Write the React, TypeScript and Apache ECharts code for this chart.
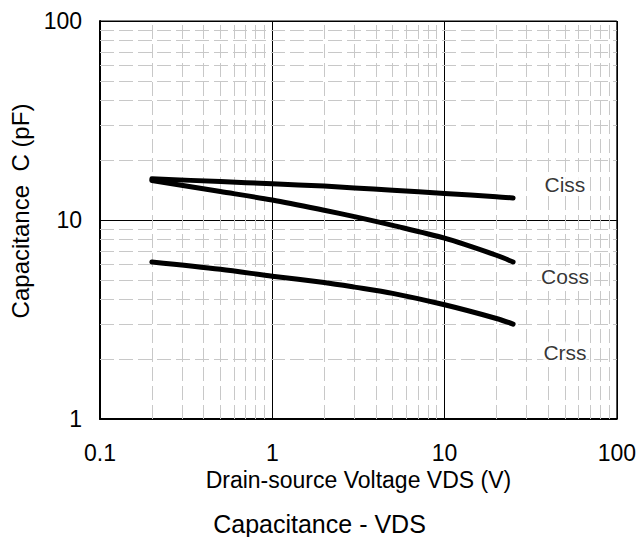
import React, { useEffect, useRef } from "react";
import * as echarts from "echarts";

// Drain-source voltage (V)
const vds = [0.2, 0.5, 1, 2, 3, 5, 10, 20, 25];
// Capacitances (pF)
const ciss = [16.1, 15.6, 15.2, 14.8, 14.5, 14.1, 13.6, 13.1, 12.9];
const coss = [15.8, 13.9, 12.6, 11.2, 10.4, 9.4, 8.1, 6.65, 6.15];
const crss = [6.15, 5.65, 5.22, 4.85, 4.6, 4.28, 3.75, 3.2, 3.0];

const seriesNames = ["Ciss", "Coss", "Crss"];
const labelVds = [50, 50, 50];
const labelC = [15, 5.2, 2.17];

const xDecades = [0.1, 1, 10];
const yDecades = [1, 10];

const FONT = "'Liberation Sans', Arial, sans-serif";

export default function App() {
  const ref = useRef<HTMLDivElement>(null);
  useEffect(() => {
    document.body.style.margin = "0";
    if (!ref.current) return;
    const chart = echarts.init(ref.current, undefined, { renderer: "svg" });

    const minorX: number[] = [];
    xDecades.forEach((d) => {
      for (let k = 2; k <= 9; k++) minorX.push(k * d);
    });
    const minorY: number[] = [];
    yDecades.forEach((d) => {
      for (let k = 2; k <= 9; k++) minorY.push(k * d);
    });

    const curve = (name: string, vals: number[]) => ({
      name,
      type: "line",
      smooth: 0.3,
      showSymbol: false,
      symbol: "none",
      data: vds.map((v, i) => [v, vals[i]]),
      lineStyle: { color: "#000", width: 5, cap: "round", join: "round" },
      z: 5,
    });

    chart.setOption({
      animation: false,
      grid: {
        left: 96,
        top: 21,
        right: 20,
        bottom: 118,
        show: true,
        borderColor: "#000",
        borderWidth: 1,
        backgroundColor: "transparent",
      },
      title: {
        text: "Capacitance - VDS",
        left: "center",
        top: 506,
        textStyle: { fontFamily: FONT, fontSize: 25, fontWeight: "normal", color: "#000" },
      },
      xAxis: {
        type: "log",
        logBase: 10,
        min: 0.1,
        max: 100,
        name: "Drain-source Voltage VDS (V)",
        nameLocation: "middle",
        nameGap: 49,
        nameTextStyle: { fontFamily: FONT, fontSize: 23, color: "#000" },
        axisLine: { show: true, onZero: false, lineStyle: { color: "#000", width: 2 } },
        axisTick: { show: false },
        axisLabel: { fontFamily: FONT, fontSize: 23, color: "#000", margin: 22 },
        splitLine: { show: true, lineStyle: { color: "#000", width: 1 } },
      },
      yAxis: {
        type: "log",
        logBase: 10,
        min: 1,
        max: 100,
        name: "Capacitance  C (pF)",
        nameLocation: "middle",
        nameGap: 68,
        nameTextStyle: {
          fontFamily: FONT,
          fontSize: 24,
          color: "#000",
          padding: [0, 0, 0, 18],
        },
        axisLine: { show: true, onZero: false, lineStyle: { color: "#000", width: 2 } },
        axisTick: { show: false },
        axisLabel: { fontFamily: FONT, fontSize: 23, color: "#000", margin: 18 },
        splitLine: { show: true, lineStyle: { color: "#000", width: 1 } },
      },
      series: [
        {
          name: "grid",
          type: "line",
          data: [],
          silent: true,
          z: 1,
          markLine: {
            silent: true,
            symbol: ["none", "none"],
            label: { show: false },
            lineStyle: { color: "#c8c8c8", width: 1, type: [14, 5] },
            data: [
              ...minorX.map((v) => ({ xAxis: v })),
              ...minorY.map((v) => ({ yAxis: v })),
            ],
          },
        },
        curve("Ciss", ciss),
        curve("Coss", coss),
        curve("Crss", crss),
        {
          name: "labels",
          type: "scatter",
          symbolSize: 0,
          silent: true,
          z: 6,
          data: seriesNames.map((n, i) => ({ value: [labelVds[i], labelC[i]], name: n })),
          label: {
            show: true,
            position: [0, 0],
            align: "center",
            verticalAlign: "middle",
            formatter: (p: any) => p.name,
            fontFamily: FONT,
            fontSize: 21,
            color: "#000",
            backgroundColor: "#fff",
          },
        },
      ],
    });
    return () => chart.dispose();
  }, []);
  return <div ref={ref} style={{ width: 639, height: 537 }} />;
}
